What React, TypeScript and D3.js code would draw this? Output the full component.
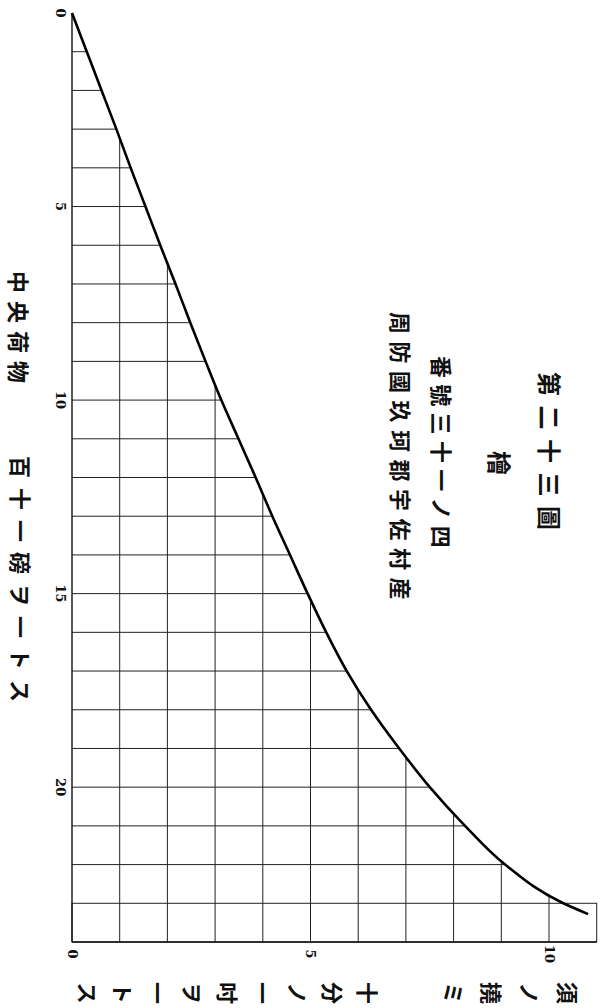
import * as d3 from "d3";

// 中央荷物 (load, 1 unit = 111 lb) against 須ノ撓ミ (deflection, 1 unit = 1/10 in)
const loads = [0, 1, 2, 3, 4, 5, 6, 7, 8, 9, 10, 11, 12, 13, 14, 15, 16, 17, 18, 19, 20, 21, 22, 23, 23.28];
const deflections = [0, 0.31, 0.62, 0.93, 1.23, 1.54, 1.85, 2.17, 2.48, 2.8, 3.13, 3.49, 3.85, 4.2, 4.57, 4.94, 5.33, 5.76, 6.27, 6.86, 7.5, 8.24, 9.08, 10.3, 10.82];

const loadTicks = [0, 5, 10, 15, 20];
const deflectionTicks = [0, 5, 10];
const gridLoads = [1, 2, 3, 4, 5, 6, 7, 8, 9, 10, 11, 12, 13, 14, 15, 16, 17, 18, 19, 20, 21, 22];
const gridDeflections = [1, 2, 3, 4, 5, 6, 7, 8, 9, 10];
const loadMax = 24;
const boxLoad = 23;
const boxDeflection = 11;

const figureTitle = "第二十三圖";
const woodName = "檜";
const sampleNo = "番號三十一ノ四";
const origin = "周防國玖珂郡宇佐村産";
const loadName = "中央荷物";
const loadUnit = "百十一磅ヲ一トス";
const deflName = "須ノ撓ミ";
const deflUnit = "十分ノ一吋ヲ一トス";

const cjk = "'Noto Sans CJK JP', 'Noto Sans CJK SC', sans-serif";
const serif = "'DejaVu Serif', 'Liberation Serif', serif";

// deflection where the curve crosses a given load (linear between readings)
function deflAt(L: number) {
  const i = Math.max(1, d3.bisectLeft(loads, L));
  const t = (L - loads[i - 1]) / (loads[i] - loads[i - 1]);
  return deflections[i - 1] + t * (deflections[i] - deflections[i - 1]);
}

function loadAt(d: number) {
  const i = Math.max(1, d3.bisectLeft(deflections, d));
  const t = (d - deflections[i - 1]) / (deflections[i] - deflections[i - 1]);
  return loads[i - 1] + t * (loads[i] - loads[i - 1]);
}

function DownText(props: { x: number; y: number; size: number; spacing: number; text: string }) {
  // reads top to bottom, glyphs turned a quarter clockwise
  return (
    <text
      transform={`translate(${props.x},${props.y}) rotate(90)`}
      fontFamily={cjk}
      fontWeight={700}
      fontSize={props.size}
      letterSpacing={props.spacing}
      dominantBaseline="central"
      fill="#111"
    >
      {props.text}
    </text>
  );
}

function LeftText(props: { x: number; y: number; size: number; spacing: number; text: string }) {
  // vertical column turned a quarter clockwise: reads right to left
  return (
    <text
      transform={`translate(${props.x},${props.y}) rotate(90)`}
      fontFamily={cjk}
      fontWeight={700}
      fontSize={props.size}
      letterSpacing={props.spacing}
      style={{ writingMode: "vertical-rl" }}
      fill="#111"
    >
      {props.text}
    </text>
  );
}

export default function App() {
  const x = d3.scaleLinear().domain([0, 10]).range([72, 549]);
  const y = d3.scaleLinear().domain([0, loadMax]).range([13, 942]);

  const idx = d3.range(loads.length);
  const curve = d3
    .line<number>()
    .x((i) => x(deflections[i]))
    .y((i) => y(loads[i]))
    .curve(d3.curveMonotoneY)(idx);

  return (
    <div style={{ position: "absolute", left: 0, top: 0 }}>
      <svg width={603} height={1008} style={{ display: "block", background: "#fff" }}>
        {/* grid under the curve */}
        <g stroke="#222" strokeWidth={1}>
          {gridLoads.map((L) => (
            <line key={"h" + L} x1={x(0)} x2={x(deflAt(L))} y1={y(L)} y2={y(L)} />
          ))}
          {gridDeflections.map((d) => (
            <line key={"v" + d} x1={x(d)} x2={x(d)} y1={y(loadMax)} y2={y(loadAt(d))} />
          ))}
          <rect x={x(0)} y={y(boxLoad)} width={x(boxDeflection) - x(0)} height={y(loadMax) - y(boxLoad)} fill="none" />
        </g>
        <line x1={x(0)} x2={x(0)} y1={y(0)} y2={y(loadMax)} stroke="#111" strokeWidth={1.4} />
        <line x1={x(0)} x2={x(boxDeflection)} y1={y(loadMax)} y2={y(loadMax)} stroke="#111" strokeWidth={1.4} />

        <path d={curve ?? ""} fill="none" stroke="#000" strokeWidth={2.6} />

        {/* tick labels */}
        <g fontFamily={serif} fontWeight={700} fontSize={13} fill="#111">
          {loadTicks.map((t) => (
            <text key={"lt" + t} transform={`translate(${x(0) - 12},${y(t)}) rotate(90)`} textAnchor="middle" dominantBaseline="central">
              {t}
            </text>
          ))}
          {deflectionTicks.map((t) => (
            <text key={"dt" + t} transform={`translate(${x(t)},${y(loadMax) + 12}) rotate(90)`} textAnchor="middle" dominantBaseline="central">
              {t}
            </text>
          ))}
        </g>

        {/* title block */}
        <DownText x={550} y={372} size={24} spacing={9.5} text={figureTitle} />
        <DownText x={500} y={451} size={24} spacing={0} text={woodName} />
        <DownText x={443} y={356} size={22} spacing={6.3} text={sampleNo} />
        <DownText x={402} y={312} size={22} spacing={7.5} text={origin} />

        {/* axis names */}
        <DownText x={20} y={271} size={22} spacing={8} text={loadName} />
        <DownText x={22} y={456} size={22} spacing={10} text={loadUnit} />
        <LeftText x={578} y={993} size={22} spacing={16} text={deflName} />
        <LeftText x={378} y={993} size={22} spacing={13} text={deflUnit} />
      </svg>
    </div>
  );
}
